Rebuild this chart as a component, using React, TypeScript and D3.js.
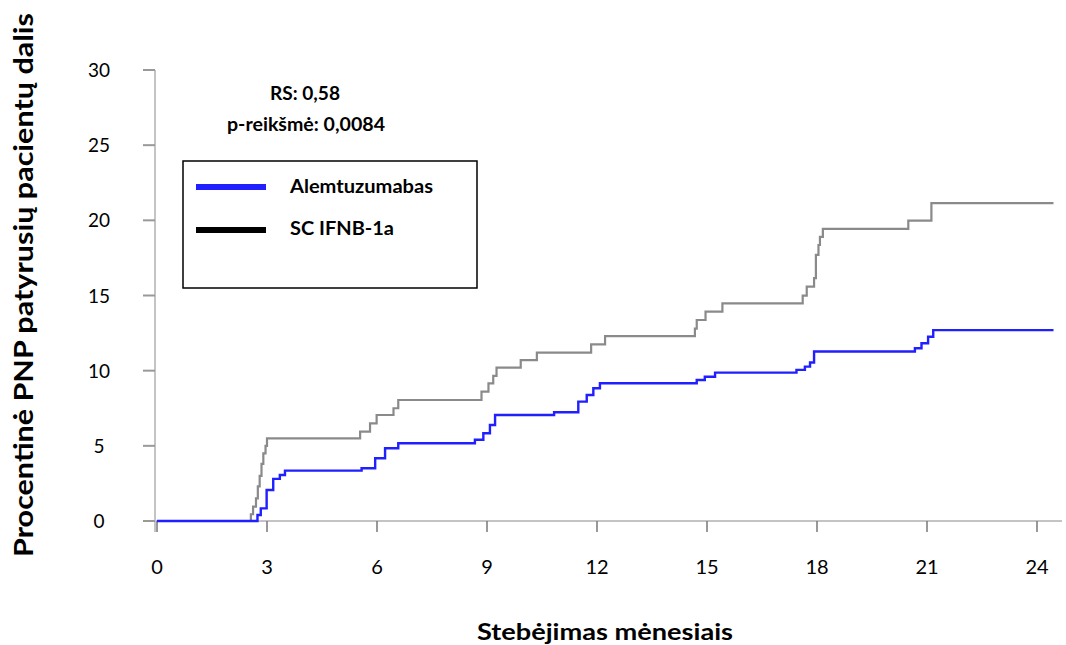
import React from "react";
import * as d3 from "d3";

const xTicks = [0, 3, 6, 9, 12, 15, 18, 21, 24];
const yTicks = [0, 5, 10, 15, 20, 25, 30];

const alemMonths = [0, 2.74, 2.83, 2.99, 3.17, 3.35, 3.49, 5.58, 5.95, 6.22, 6.58, 8.67, 8.9, 9.08, 9.22, 10.83, 11.49, 11.72, 11.9, 12.08, 14.72, 14.94, 15.22, 17.44, 17.67, 17.81, 17.92, 20.67, 20.85, 21.03, 21.17, 24.45];
const alemValues = [0, 0.4, 0.84, 2.06, 2.8, 3.06, 3.35, 3.51, 4.17, 4.84, 5.17, 5.4, 5.84, 6.39, 7.05, 7.23, 7.94, 8.38, 8.83, 9.16, 9.38, 9.6, 9.87, 10.05, 10.27, 10.54, 11.27, 11.49, 11.82, 12.26, 12.7, 12.7];

const ifnMonths = [0, 2.56, 2.62, 2.7, 2.75, 2.8, 2.85, 2.9, 2.96, 3.0, 5.54, 5.81, 5.99, 6.45, 6.58, 8.85, 9.04, 9.17, 9.26, 9.92, 10.36, 11.84, 12.22, 14.67, 14.72, 14.96, 15.42, 17.61, 17.72, 17.92, 17.97, 18.04, 18.08, 18.16, 20.49, 21.12, 24.45];
const ifnValues = [0, 0.45, 0.95, 1.5, 2.3, 3.0, 3.8, 4.5, 5.0, 5.5, 5.94, 6.5, 7.05, 7.5, 8.05, 8.6, 9.16, 9.65, 10.2, 10.7, 11.2, 11.75, 12.3, 12.8, 13.37, 13.93, 14.48, 14.99, 15.59, 16.15, 17.7, 18.36, 18.9, 19.43, 19.98, 21.14, 21.14];

const seriesNames = ["Alemtuzumabas", "SC IFNB-1a"];
const annotations = ["RS: 0,58", "p-reikšmė: 0,0084"];
const xTitle = "Stebėjimas mėnesiais";
const yTitle = "Procentinė PNP patyrusių pacientų dalis";

const FONT = "Lato, 'Open Sans', sans-serif";

export default function App() {
  const x = d3.scaleLinear().domain([0, 24]).range([157, 1037]);
  const y = d3.scaleLinear().domain([0, 30]).range([521, 70]);
  const line = d3
    .line<[number, number]>()
    .x((d) => x(d[0]))
    .y((d) => y(d[1]))
    .curve(d3.curveStepAfter);

  const alem = alemMonths.map((m, i) => [m, alemValues[i]] as [number, number]);
  const ifn = ifnMonths.map((m, i) => [m, ifnValues[i]] as [number, number]);

  return (
    <svg
      width={1066}
      height={645}
      style={{ position: "absolute", left: 0, top: 0, background: "#fff" }}
      fontFamily={FONT}
    >
      {/* axes */}
      <line x1={155} x2={155} y1={y(30)} y2={532} stroke="#c4c4c4" strokeWidth={2} />
      <line x1={143} x2={1062} y1={y(0)} y2={y(0)} stroke="#c4c4c4" strokeWidth={2} />
      {yTicks.map((t) => (
        <g key={"y" + t}>
          <line x1={143} x2={155} y1={y(t)} y2={y(t)} stroke="#999" strokeWidth={2} />
          <text x={99} y={y(t) + 7} textAnchor="middle" fontSize={19} fill="#000">
            {t}
          </text>
        </g>
      ))}
      {xTicks.map((t) => (
        <g key={"x" + t}>
          <line x1={x(t)} x2={x(t)} y1={y(0)} y2={y(0) + 11} stroke="#777" strokeWidth={1.5} />
          <text x={x(t)} y={574} textAnchor="middle" fontSize={20} fill="#000">
            {t}
          </text>
        </g>
      ))}

      {/* curves */}
      <path d={line(ifn) || ""} fill="none" stroke="#8a8a8a" strokeWidth={2.2} />
      <path d={line(alem) || ""} fill="none" stroke="#1f1fff" strokeWidth={2.4} />

      {/* annotations */}
      <text x={305} y={100} textAnchor="middle" fontSize={18} fontWeight="bold" textLength={70} lengthAdjust="spacingAndGlyphs">
        {annotations[0]}
      </text>
      <text x={306} y={131} textAnchor="middle" fontSize={18} fontWeight="bold" textLength={158} lengthAdjust="spacingAndGlyphs">
        {annotations[1]}
      </text>

      {/* legend */}
      <rect x={183} y={161} width={294} height={127} fill="#fff" stroke="#000" strokeWidth={1.5} />
      <line x1={196} x2={266} y1={187} y2={187} stroke="#1f1fff" strokeWidth={6} />
      <line x1={196} x2={266} y1={230} y2={230} stroke="#000" strokeWidth={6} />
      <text x={290} y={193} fontSize={18.5} fontWeight="bold" textLength={143} lengthAdjust="spacingAndGlyphs">
        {seriesNames[0]}
      </text>
      <text x={290} y={235} fontSize={18.5} fontWeight="bold" textLength={104} lengthAdjust="spacingAndGlyphs">
        {seriesNames[1]}
      </text>

      {/* axis titles */}
      <text x={605} y={640} textAnchor="middle" fontSize={22} fontWeight="bold" textLength={256} lengthAdjust="spacingAndGlyphs">
        {xTitle}
      </text>
      <text
        transform={`translate(33,285) rotate(-90)`}
        textAnchor="middle"
        fontSize={26}
        fontWeight="bold"
        textLength={544}
        lengthAdjust="spacingAndGlyphs"
      >
        {yTitle}
      </text>
    </svg>
  );
}
